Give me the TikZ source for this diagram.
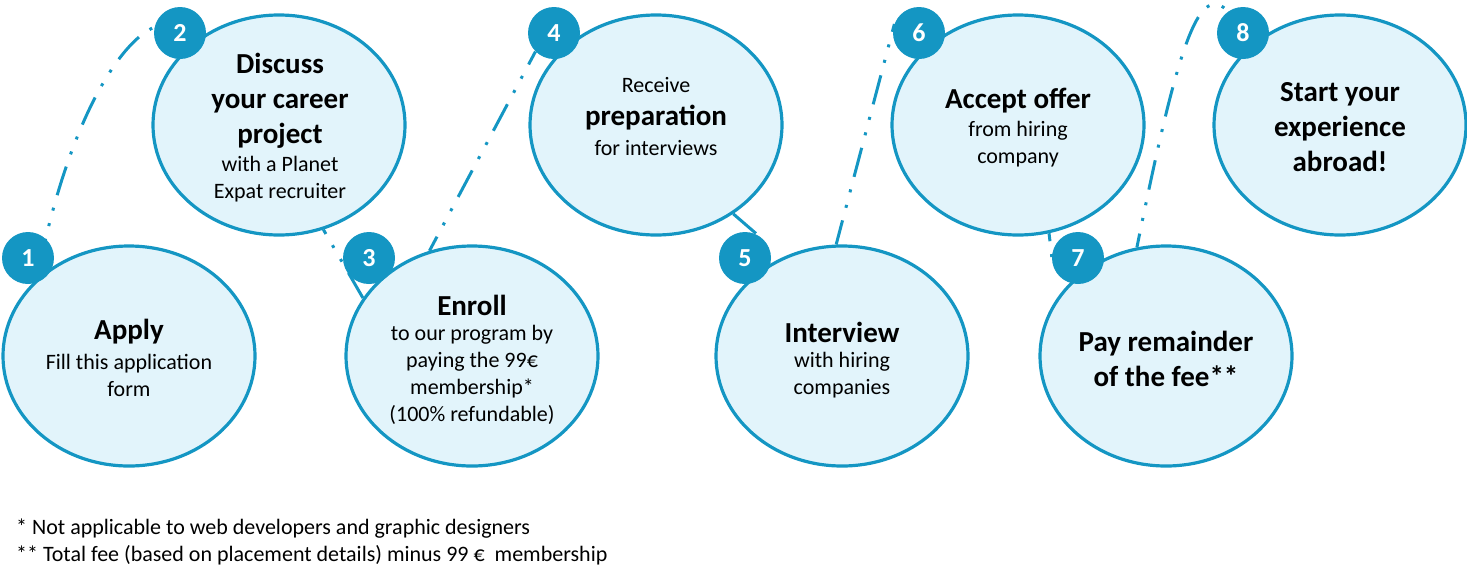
\documentclass[tikz,border=0pt]{standalone}
\usepackage{fontspec}
\setmainfont{Carlito}
\usetikzlibrary{shapes.geometric,backgrounds}
\definecolor{stepblue}{RGB}{20,150,195}
\definecolor{steplight}{RGB}{226,244,251}
\tikzset{
	stepbubble/.style={ellipse, draw=stepblue, line width=3.2pt, fill=steplight, minimum width=252pt, minimum height=220pt, inner sep=0pt},
	stepbadge/.style={circle, fill=stepblue, minimum size=52pt, inner sep=0pt, text=white, font=\fontsize{26}{30}\selectfont\bfseries},
	steptitle/.style={align=center, inner sep=0pt, font=\fontsize{29}{35}\selectfont\bfseries},
	stepbody/.style={align=center, inner sep=0pt, font=\fontsize{22}{27}\selectfont},
	stepline/.style={draw=stepblue, line width=3pt, dash pattern=on 30pt off 13pt on 3pt off 13pt on 3pt off 13pt}
}

\begin{document}
\begin{tikzpicture}[x=1pt, y=-1pt]
		%%%%% START %%%%%
		\useasboundingbox (0, 0) rectangle (1467, 582);
		
		\node[stepbubble] (e1) at (129, 356) {};
		\node[stepbubble] (e2) at (279, 125) {};
		\node[stepbubble] (e3) at (472, 356) {};
		\node[stepbubble] (e4) at (656, 125) {};
		\node[stepbubble] (e5) at (842, 356) {};
		\node[stepbubble] (e6) at (1018, 125) {};
		\node[stepbubble] (e7) at (1166, 356) {};
		\node[stepbubble] (e8) at (1340, 125) {};
		
		\node[stepbadge] (b1) at (28, 258) {1};
		\node[stepbadge] (b2) at (180, 33) {2};
		\node[stepbadge] (b3) at (369, 258) {3};
		\node[stepbadge] (b4) at (554, 33) {4};
		\node[stepbadge] (b5) at (745, 258) {5};
		\node[stepbadge] (b6) at (919, 33) {6};
		\node[stepbadge] (b7) at (1078, 258) {7};
		\node[stepbadge] (b8) at (1243, 33) {8};
		
		% links go under the badges
		\begin{scope}[on background layer]
			\draw[stepline, dash phase=64pt] (e1.140) .. controls (80, 60) and (160, 0) .. (b2.center);
			\draw[stepline, dash phase=25pt] (e2.-67) -- (e3.152);
			\draw[stepline, dash phase=14pt] (e3.112) -- (b4.225);
			\draw[stepline] (e4.-49) -- (b5.60);
			\draw[stepline, dash phase=5pt] (e5.93) -- (b6.160);
			\draw[stepline, dash phase=22pt] (e6.-74) -- (b7.195);
			\draw[stepline, dash phase=16pt] (e7.105) .. controls (1185, 10) and (1205, -35) .. (b8.center);
		\end{scope}
		
		\node[steptitle] (t1) at (129, 332) {Apply};
		\node[stepbody] (s1) at (129, 375) {Fill this application\\form};
		
		\node[steptitle] (t2) at (280, 101) {Discuss\\your career\\project};
		\node[stepbody] (s2) at (280, 179) {with a Planet\\Expat recruiter};
		
		\node[steptitle] (t3) at (472, 305) {Enroll};
		\node[stepbody] (s3) at (472, 375) {to our program by\\paying the 99€\\membership*\\(100\% refundable)};
		
		\node[stepbody] (r4) at (656, 85) {Receive};
		\node[steptitle] (t4) at (656, 118) {preparation};
		\node[stepbody] (s4) at (656, 148) {for interviews};
		
		\node[steptitle] (t5) at (842, 332) {Interview};
		\node[stepbody] (s5) at (842, 375) {with hiring\\companies};
		
		\node[steptitle] (t6) at (1018, 101) {Accept offer};
		\node[stepbody] (s6) at (1018, 144) {from hiring\\company};
		
		\node[steptitle] (t7) at (1166, 359) {Pay remainder\\of the fee**};
		
		\node[steptitle] (t8) at (1340, 127) {Start your\\experience\\abroad!};
		
		\node[stepbody, anchor=west] (n1) at (16, 529) {* Not applicable to web developers and graphic designers};
		\node[stepbody, anchor=west] (n2) at (16, 555) {** Total fee (based on placement details) minus 99 €\ \ membership};
		
		%%%%% END %%%%%
\end{tikzpicture}
\end{document}
